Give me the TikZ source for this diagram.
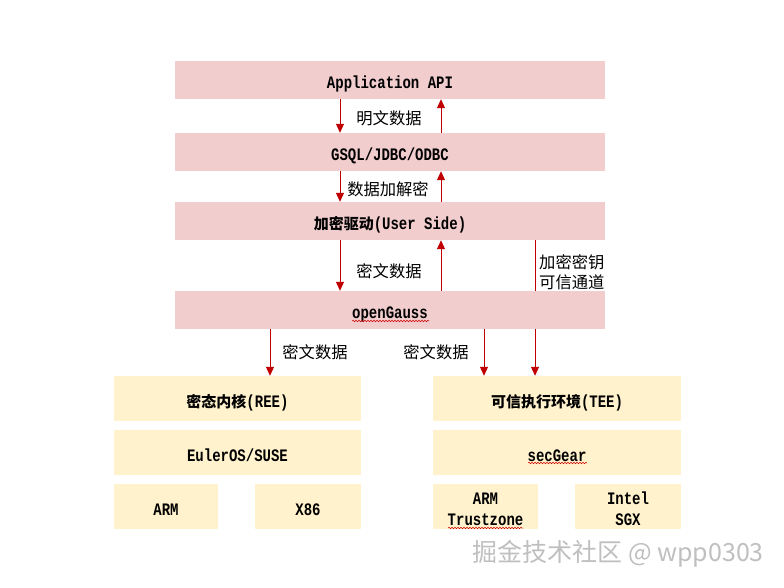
\documentclass[tikz,border=0pt]{standalone}
\usepackage{fontspec}
\setmainfont[FakeStretch=0.8]{Liberation Mono}
\newfontfamily\cjk{Noto Sans CJK SC}
\usetikzlibrary{arrows.meta,backgrounds,decorations.pathmorphing}
\definecolor{pinkbox}{RGB}{242,205,206}
\definecolor{yelbox}{RGB}{255,242,204}
\definecolor{arrred}{RGB}{192,0,0}
\tikzset{
  pinkb/.style={fill=pinkbox, draw=none, minimum width=430pt, minimum height=38pt, inner sep=0pt, text height=17pt, text depth=0pt, font=\bfseries\fontsize{17.5}{19}\selectfont},
  yelb/.style={fill=yelbox, draw=none, minimum height=45pt, inner sep=0pt, text height=17pt, text depth=0pt, font=\bfseries\fontsize{17.5}{19}\selectfont},
  yelb2/.style={fill=yelbox, draw=none, minimum height=45pt, inner sep=0pt, font=\bfseries\fontsize{17.5}{19}\selectfont},
  arr/.style={draw=arrred, line width=1pt, -{Triangle[width=8pt,length=9pt]}},
  lbl/.style={font=\cjk\fontsize{16.3}{21}\selectfont, inner sep=0pt},
  wavy/.style={draw=red!80!black, line width=0.5pt, decorate, decoration={snake, amplitude=0.8pt, segment length=3pt}}
}
\newcommand{\cjkbold}[1]{{\cjk\bfseries\fontsize{15}{19}\selectfont #1}}
\newcommand{\twolines}[2]{\raisebox{-8.5pt}[0pt][0pt]{\renewcommand{\arraystretch}{1.12}\begin{tabular}{@{}c@{}}#1\\#2\end{tabular}}}
\begin{document}
\begin{tikzpicture}[x=1pt,y=-1pt]
\useasboundingbox (0,0) rectangle (784,588);
% upper boxes
\node[pinkb] (app) at (390,80) {Application API};
\node[pinkb] (gsql) at (390,152) {GSQL/JDBC/ODBC};
\node[pinkb] (enc) at (390,221) {\cjkbold{加密驱动}(User Side)};
\node[pinkb] (og) at (390,310) {openGauss};
% lower left boxes
\node[yelb, minimum width=247pt] (ree) at (237.5,398.5) {\cjkbold{密态内核}(REE)};
\node[yelb, minimum width=247pt] (euler) at (237.5,452.5) {EulerOS/SUSE};
\node[yelb, minimum width=104pt] (arm) at (166,506.5) {ARM};
\node[yelb, minimum width=106pt] (x86) at (308,506.5) {X86};
% lower right boxes
\node[yelb, minimum width=248pt] (tee) at (557,398.5) {\cjkbold{可信执行环境}(TEE)};
\node[yelb, minimum width=248pt] (sec) at (557,452.5) {secGear};
\node[yelb2, minimum width=105pt] (armtz) at (485.5,506.5) {\twolines{ARM}{Trustzone}};
\node[yelb2, minimum width=106pt] (sgx) at (628,506.5) {\twolines{Intel}{SGX}};
% x positions
\coordinate (xL) at (340,0);
\coordinate (xR) at (441,0);
\coordinate (xK) at (535,0);
\coordinate (xA) at (270,0);
\coordinate (xB) at (484,0);
% arrows
\draw[arr] (app.south -| xL) -- (gsql.north -| xL);
\draw[arr] (gsql.north -| xR) -- (app.south -| xR);
\draw[arr] (gsql.south -| xL) -- (enc.north -| xL);
\draw[arr] (enc.north -| xR) -- (gsql.south -| xR);
\draw[arr] (enc.south -| xL) -- (og.north -| xL);
\draw[arr] (og.north -| xR) -- (enc.south -| xR);
\begin{pgfonlayer}{background}
\draw[arr] (enc.south -| xK) -- (tee.north -| xK);
\end{pgfonlayer}
\draw[arr] (og.south -| xA) -- (ree.north -| xA);
\draw[arr] (og.south -| xB) -- (tee.north -| xB);
% labels
\node[lbl] (l1) at (389,118) {明文数据};
\node[lbl] (l2) at (388,189) {数据加解密};
\node[lbl] (l3) at (389,271) {密文数据};
\node[lbl, anchor=west, align=left, font=\cjk\fontsize{16.3}{20}\selectfont] (l4) at (539,272) {加密密钥\\可信通道};
\node[lbl] (l5) at (315,352) {密文数据};
\node[lbl] (l6) at (436,352) {密文数据};
% spell-check underlines
\draw[wavy] (352,321) -- (429,321);
\draw[wavy] (528,463) -- (587,463);
\draw[wavy] (448,528) -- (523,528);
% watermark
\node[font=\cjk\fontsize{25}{28}\selectfont, text=gray!50, inner sep=0pt, anchor=east] (wm) at (764,554) {掘金技术社区 @ wpp0303};
\end{tikzpicture}
\end{document}
